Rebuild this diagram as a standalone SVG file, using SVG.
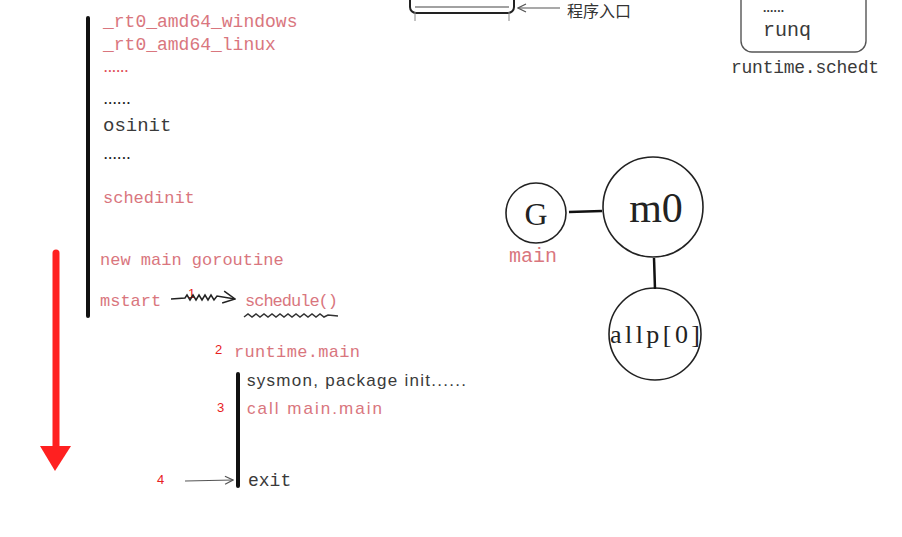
<svg xmlns="http://www.w3.org/2000/svg" width="902" height="537" viewBox="0 0 902 537">
<style>
.mono{font-family:"Liberation Mono","DejaVu Sans Mono",monospace}
.red{fill:#d9767e}
.dark{fill:#3a3a3a}
.num{font-family:"Liberation Sans",Arial,sans-serif;font-size:13px;fill:#e8201e}
.hand{font-family:"Liberation Mono",monospace;font-size:17px}
.sans{font-family:"Liberation Sans",Arial,sans-serif}
.node{fill:#fff;stroke:#222;stroke-width:1.6}
.conn{stroke:#111;stroke-width:2.5;fill:none}
.thin{stroke:#555;stroke-width:1.2;fill:none}
.dots{font-family:"Liberation Sans",Arial,sans-serif;font-size:12px;font-weight:bold}
</style>
<defs>
<marker id="open" viewBox="0 0 10 10" refX="9" refY="5" markerWidth="10" markerHeight="10" markerUnits="userSpaceOnUse" orient="auto">
<path d="M1,1 L9,5 L1,9" fill="none" stroke="#555" stroke-width="1.2"/>
</marker>
<marker id="open2" viewBox="0 0 14 14" refX="13" refY="7" markerWidth="14" markerHeight="14" markerUnits="userSpaceOnUse" orient="auto">
<path d="M1,1 L13,7 L1,13" fill="none" stroke="#222" stroke-width="1.5"/>
</marker>
</defs>
<rect width="902" height="537" fill="#fff"/>

<g id="entry">
<rect x="410" y="-14" width="104" height="27" rx="6" fill="none" stroke="#222" stroke-width="2"/>
<line x1="415" y1="7" x2="509" y2="7" stroke="#444" stroke-width="1.2"/>
<line x1="415" y1="12" x2="415" y2="21" stroke="#888" stroke-width="1"/>
<line x1="509" y1="12" x2="509" y2="21" stroke="#888" stroke-width="1"/>
<line x1="560" y1="8" x2="518" y2="8" class="thin" marker-end="url(#open)"/>
<text x="567" y="17" font-family="'Noto Sans CJK SC',sans-serif" font-size="16" fill="#333">程序入口</text>
</g>

<g id="schedt">
<rect x="741" y="-20" width="125" height="72" rx="11" fill="none" stroke="#555" stroke-width="1.4"/>
<text x="763" y="12" class="dots dark" textLength="21">......</text>
<text x="763" y="36" class="mono dark" font-size="20">runq</text>
<text x="731" y="73" class="mono dark" font-size="18" textLength="148">runtime.schedt</text>
</g>

<g id="boot">
<line x1="88" y1="18" x2="88" y2="316" stroke="#111" stroke-width="4" stroke-linecap="round"/>
<text x="103" y="27" class="mono red" font-size="18">_rt0_amd64_windows</text>
<text x="103" y="50" class="mono red" font-size="18">_rt0_amd64_linux</text>
<text x="104" y="72" class="dots" fill="#e0505a" textLength="24">......</text>
<text x="104" y="104" class="dots" fill="#222" textLength="26">......</text>
<text x="103" y="131" class="mono dark" font-size="19">osinit</text>
<text x="104" y="159" class="dots" fill="#222" textLength="26">......</text>
<text x="103" y="203" class="hand red">schedinit</text>
<text x="100" y="265" class="hand red">new main goroutine</text>
<text x="100" y="306" class="hand red">mstart</text>
<text x="245" y="306" class="hand red" textLength="93">schedule()</text>
</g>

<g id="runtime-main">
<text x="234" y="357" class="hand red" textLength="126">runtime.main</text>
<line x1="238" y1="374" x2="238" y2="486" stroke="#111" stroke-width="4" stroke-linecap="round"/>
<text x="247" y="386" class="sans dark" font-size="17" textLength="219">sysmon, package init......</text>
<text x="247" y="414" class="sans red" font-size="17" textLength="135">call main.main</text>
<text x="248" y="486" class="mono dark" font-size="18">exit</text>
</g>

<g id="nums">
<text x="188" y="298" class="num">1</text>
<text x="215" y="354" class="num">2</text>
<text x="217" y="412" class="num">3</text>
<text x="157" y="484" class="num">4</text>
</g>

<g id="G">
<circle cx="536" cy="213" r="30" class="node"/>
<text x="536" y="225" text-anchor="middle" font-family="'Liberation Serif',serif" font-size="32" fill="#222">G</text>
<text x="509" y="262" class="mono red" font-size="20">main</text>
</g>
<g id="m0">
<circle cx="653" cy="207" r="50" class="node"/>
<text x="656" y="222" text-anchor="middle" font-family="'Liberation Serif',serif" font-size="42" fill="#222">m0</text>
</g>
<g id="allp0">
<circle cx="655" cy="334" r="46" class="node"/>
<text x="655" y="343" text-anchor="middle" font-family="'Liberation Serif',serif" font-size="26" fill="#222" textLength="90">allp[0]</text>
</g>

<g id="connectors">
<line x1="569" y1="212" x2="602" y2="211" class="conn"/>
<line x1="654" y1="258" x2="655" y2="289" class="conn"/>
<path d="M171,299 L185,298 l2,-3 l3,5 l3,-5 l3,5 l3,-5 l3,5 l3,-5 l3,5 l3,-5 l3,5 l3,-4 L235,299" fill="none" stroke="#222" stroke-width="1.5" marker-end="url(#open2)"/>
<path d="M244,317 l4,-3 l4,3 l4,-3 l4,3 l4,-3 l4,3 l4,-3 l4,3 l4,-3 l4,3 l4,-3 l4,3 l4,-3 l4,3 l4,-3 l4,3 l4,-3 l4,3 l4,-3 l4,3 l4,-2 L338,316" fill="none" stroke="#333" stroke-width="1.5"/>
<line x1="185" y1="481" x2="233" y2="480" class="thin" marker-end="url(#open)"/>
<line x1="56" y1="253" x2="56" y2="450" stroke="#ff2020" stroke-width="7" stroke-linecap="round"/>
<polygon points="40,446 71,446 55,471" fill="#ff2020"/>
</g>
</svg>
